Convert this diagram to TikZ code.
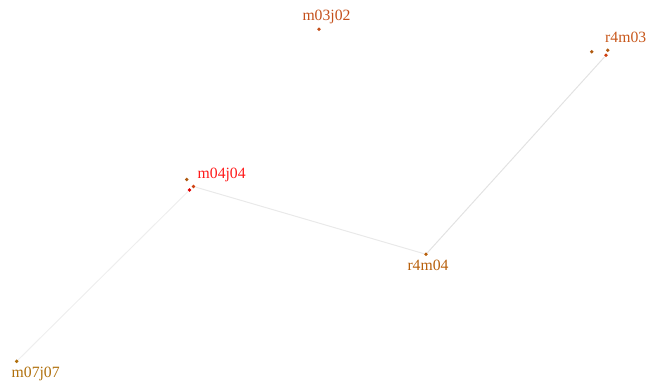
\documentclass[tikz,border=0pt]{standalone}
\usepackage{fontspec}
\setmainfont{Liberation Serif}
\definecolor{cA}{HTML}{C4501C}
\definecolor{cB}{HTML}{C8581C}
\definecolor{cC}{HTML}{B8600C}
\definecolor{cD}{HTML}{B0700C}
\definecolor{cR}{HTML}{FF1A1A}
\definecolor{dBrown}{HTML}{B05A10}
\definecolor{dOrange}{HTML}{D04010}
\definecolor{dRed}{HTML}{E00000}
\definecolor{edgeA}{HTML}{EEEEEE}
\definecolor{edgeB}{HTML}{E9E9E9}
\definecolor{edgeC}{HTML}{E2E2E2}
\tikzset{
  dot/.style={circle,fill=#1,inner sep=0pt,minimum size=3.8pt},
  lbl/.style={text=#1,inner sep=0pt,anchor=base,font=\fontsize{15.7}{18}\selectfont},
  link/.style={draw=#1,line width=1pt}
}
\begin{document}
\begin{tikzpicture}[x=1pt,y=-1pt]
\useasboundingbox (0,0) rectangle (650,387);
% dots
\node[dot=cA] (d1) at (319,29.3) {};
\node[dot=dBrown] (d2a) at (591.7,51.7) {};
\node[dot=dBrown] (d2b) at (607.7,50.3) {};
\node[dot=dOrange] (d2c) at (606,55.3) {};
\node[dot=dBrown] (d3a) at (186.7,179.5) {};
\node[dot=dOrange] (d3b) at (193.5,186.5) {};
\node[dot=dRed] (d3c) at (189.5,190) {};
\node[dot=cC] (d4) at (426,254.3) {};
\node[dot=cD] (d5) at (16.7,361.3) {};
% connectors
\draw[link=edgeA] (d5) -- (d3c);
\draw[link=edgeB] (d3b) -- (d4);
\draw[link=edgeC] (d4) -- (d2c);
% labels
\node[lbl=cA] (l1) at (326.5,20.5) {m03j02};
\node[lbl=cB,anchor=base west] (l2) at (605,42.5) {r4m03};
\node[lbl=cR,anchor=base west] (l3) at (197.5,178.5) {m04j04};
\node[lbl=cC] (l4) at (428,270.5) {r4m04};
\node[lbl=cD,anchor=base west] (l5) at (11.5,377.5) {m07j07};
\end{tikzpicture}
\end{document}
